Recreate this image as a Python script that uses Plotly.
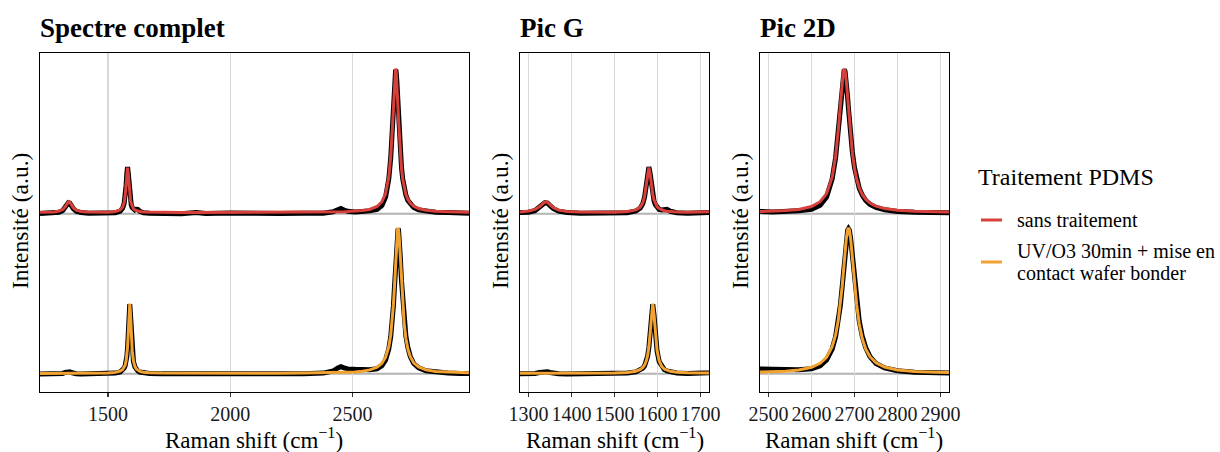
import plotly.graph_objects as go

# ---------------- data ----------------
wavenumber = [
    1222, 1250, 1280, 1300, 1315, 1325, 1332, 1338, 1344, 1350,
    1358, 1370, 1390, 1420, 1460, 1500, 1530, 1550, 1560, 1566,
    1570, 1574, 1577, 1580, 1583, 1586, 1589, 1592, 1595, 1599,
    1604, 1610, 1616, 1622, 1630, 1645, 1670, 1720, 1800, 1860,
    1900, 2000, 2100, 2200, 2300, 2380, 2420, 2440, 2452, 2465,
    2480, 2510, 2540, 2570, 2600, 2620, 2635, 2648, 2656, 2662,
    2667, 2671, 2674, 2676, 2678, 2681, 2684, 2686, 2688, 2691,
    2695, 2700, 2705, 2711, 2718, 2726, 2736, 2750, 2770, 2800,
    2840, 2890, 2940, 2976,
]

# normalised intensities, "sans traitement" : measured points and fit
sans_traitement_mesure = [
    0.002, 0.003, 0.005, 0.011, 0.022, 0.040, 0.062, 0.076, 0.073, 0.056,
    0.035, 0.018, 0.008, 0.004, 0.003, 0.003, 0.007, 0.019, 0.039, 0.071,
    0.115, 0.195, 0.275, 0.322, 0.278, 0.196, 0.130, 0.088, 0.063, 0.043,
    0.030, 0.026, 0.031, 0.030, 0.017, 0.007, 0.003, 0.001, 0.001, 0.008,
    0.002, 0.005, 0.001, 0.002, 0.003, 0.004, 0.014, 0.033, 0.036, 0.026,
    0.017, 0.012, 0.014, 0.020, 0.030, 0.058, 0.115, 0.240, 0.385, 0.565,
    0.755, 0.905, 0.978, 0.992, 0.980, 0.912, 0.800, 0.722, 0.645, 0.540,
    0.425, 0.318, 0.240, 0.176, 0.128, 0.092, 0.065, 0.043, 0.027, 0.016,
    0.010, 0.008, 0.005, 0.004,
]
sans_traitement_fit = [
    0.010, 0.011, 0.013, 0.019, 0.030, 0.048, 0.068, 0.082, 0.079, 0.062,
    0.042, 0.025, 0.016, 0.012, 0.011, 0.011, 0.015, 0.027, 0.046, 0.077,
    0.120, 0.197, 0.275, 0.318, 0.275, 0.197, 0.135, 0.095, 0.070, 0.050,
    0.036, 0.026, 0.021, 0.018, 0.015, 0.012, 0.011, 0.009, 0.009, 0.009,
    0.009, 0.009, 0.009, 0.009, 0.010, 0.011, 0.012, 0.013, 0.013, 0.014,
    0.015, 0.017, 0.022, 0.030, 0.050, 0.083, 0.139, 0.252, 0.394, 0.569,
    0.760, 0.910, 0.983, 0.998, 0.983, 0.910, 0.800, 0.720, 0.642, 0.535,
    0.419, 0.313, 0.239, 0.179, 0.133, 0.100, 0.074, 0.052, 0.036, 0.024,
    0.017, 0.014, 0.012, 0.011,
]

# normalised intensities, "UV/O3 30min + mise en contact wafer bonder"
uvo3_mesure = [
    -0.003, -0.003, -0.002, -0.001, 0.002, 0.008, 0.012, 0.014, 0.013, 0.008,
    0.003, 0.000, -0.002, -0.002, -0.001, 0.000, 0.004, 0.012, 0.024, 0.038,
    0.054, 0.083, 0.119, 0.178, 0.274, 0.403, 0.478, 0.405, 0.276, 0.157,
    0.084, 0.046, 0.028, 0.019, 0.011, 0.005, 0.001, -0.001, -0.002, 0.004,
    -0.001, 0.002, -0.002, -0.001, 0.000, 0.004, 0.018, 0.040, 0.048, 0.040,
    0.033, 0.030, 0.027, 0.027, 0.034, 0.055, 0.095, 0.170, 0.255, 0.352,
    0.468, 0.588, 0.692, 0.764, 0.836, 0.928, 0.987, 0.997, 0.988, 0.932,
    0.808, 0.638, 0.492, 0.362, 0.258, 0.180, 0.118, 0.070, 0.040, 0.020,
    0.010, 0.005, 0.002, 0.001,
]
uvo3_fit = [
    0.002, 0.002, 0.002, 0.003, 0.003, 0.003, 0.003, 0.003, 0.003, 0.003,
    0.003, 0.003, 0.003, 0.003, 0.004, 0.005, 0.009, 0.017, 0.029, 0.043,
    0.059, 0.088, 0.124, 0.183, 0.279, 0.408, 0.482, 0.408, 0.279, 0.160,
    0.088, 0.050, 0.032, 0.023, 0.016, 0.010, 0.006, 0.004, 0.003, 0.003,
    0.003, 0.003, 0.003, 0.003, 0.004, 0.006, 0.007, 0.007, 0.008, 0.009,
    0.010, 0.012, 0.017, 0.026, 0.044, 0.071, 0.113, 0.185, 0.267, 0.362,
    0.475, 0.592, 0.694, 0.766, 0.837, 0.930, 0.990, 1.002, 0.990, 0.930,
    0.802, 0.625, 0.475, 0.343, 0.242, 0.170, 0.117, 0.075, 0.046, 0.026,
    0.015, 0.010, 0.007, 0.006,
]

series_names = ["sans traitement", "UV/O3 30min + mise en contact wafer bonder"]
series_label_lines = [["sans traitement"],
                      ["UV/O3 30min + mise en", "contact wafer bonder"]]
series_colors = ["#D8403B", "#F2A230"]
legend_title = "Traitement PDMS"

panel_titles = ["Spectre complet", "Pic G", "Pic 2D"]
panel_xlims = [[1222, 2976], [1280, 1720], [2480, 2920]]
panel_ticks = [[1500, 2000, 2500],
               [1300, 1400, 1500, 1600, 1700],
               [2500, 2600, 2700, 2800, 2900]]
x_title = "Raman shift (cm<sup>−1</sup>)"
y_title = "Intensité (a.u.)"

# ---------------- layout constants ----------------
W, H = 1220, 452
OFFSET = 1.1                      # vertical stacking of the two spectra
Y_RANGE = [-0.126, 2.206]
panel_px = [(40, 469), (520, 709), (760, 949)]
top_px, bot_px = 53, 392
FONT = "Liberation Serif, Times New Roman, serif"

fig = go.Figure()
layout = dict(
    width=W, height=H, margin=dict(l=0, r=0, t=0, b=0, pad=0), autosize=False,
    paper_bgcolor="white", plot_bgcolor="white", showlegend=False,
    font=dict(family=FONT, color="#1a1a1a"),
    shapes=[], annotations=[],
)

ydom = [1 - bot_px / H, 1 - top_px / H]
for i in range(3):
    sfx = "" if i == 0 else str(i + 1)
    xa, ya = "x" + sfx, "y" + sfx
    x0, x1 = panel_px[i]
    layout["xaxis" + sfx] = dict(
        domain=[x0 / W, x1 / W], anchor=ya, range=panel_xlims[i],
        tickvals=panel_ticks[i], ticktext=[str(t) for t in panel_ticks[i]],
        showgrid=True, gridcolor="#D9D9D9", gridwidth=1.3, zeroline=False,
        showline=True, linecolor="black", linewidth=1.2, mirror=True,
        ticks="outside", ticklen=4, tickwidth=1.1, tickcolor="#333333",
        tickfont=dict(family=FONT, size=20, color="#1a1a1a"),
        automargin=False, fixedrange=True,
    )
    layout["yaxis" + sfx] = dict(
        domain=ydom, anchor=xa, range=Y_RANGE,
        showgrid=False, zeroline=False, showticklabels=False, ticks="",
        showline=True, linecolor="black", linewidth=1.2, mirror=True,
        automargin=False, fixedrange=True,
    )
    # baselines of the two stacked spectra
    for base in (OFFSET, 0.0):
        layout["shapes"].append(dict(
            type="line", xref=xa + " domain", yref=ya, x0=0, x1=1,
            y0=base, y1=base, line=dict(color="#B3B3B3", width=2), layer="below"))

    # measured points (black) then fitted curve (coloured)
    for meas, fit, off, col in (
        (sans_traitement_mesure, sans_traitement_fit, OFFSET, series_colors[0]),
        (uvo3_mesure, uvo3_fit, 0.0, series_colors[1]),
    ):
        fig.add_trace(go.Scatter(
            x=wavenumber, y=[v + off for v in meas], xaxis=xa, yaxis=ya,
            mode="lines", line=dict(color="black", width=5),
            hoverinfo="skip"))
        fig.add_trace(go.Scatter(
            x=wavenumber, y=[v + off for v in fit], xaxis=xa, yaxis=ya,
            mode="lines", line=dict(color=col, width=3),
            hoverinfo="skip"))

    # panel title
    layout["annotations"].append(dict(
        text="<b>" + panel_titles[i] + "</b>", xref="paper", yref="paper",
        x=(x0 - 2) / W, y=1 - 28 / H, xanchor="left", yanchor="middle",
        showarrow=False, font=dict(family=FONT, size=27, color="black")))
    # x title
    layout["annotations"].append(dict(
        text=x_title, xref="paper", yref="paper",
        x=(x0 + x1) / 2 / W, y=1 - 438 / H, xanchor="center", yanchor="middle",
        showarrow=False, font=dict(family=FONT, size=23, color="black")))
    # y title
    layout["annotations"].append(dict(
        text=y_title, xref="paper", yref="paper", textangle=-90,
        x=(x0 - 20) / W, y=1 - 221 / H, xanchor="center", yanchor="middle",
        showarrow=False, font=dict(family=FONT, size=23.5, color="black")))

# legend drawn by hand
layout["annotations"].append(dict(
    text=legend_title, xref="paper", yref="paper", x=976 / W, y=1 - 177 / H,
    xanchor="left", yanchor="middle", showarrow=False,
    font=dict(family=FONT, size=24, color="black")))
key_y = [220, 262]
for lines, col, ky in zip(series_label_lines, series_colors, key_y):
    layout["shapes"].append(dict(
        type="line", xref="paper", yref="paper", x0=981 / W, x1=1002 / W,
        y0=1 - ky / H, y1=1 - ky / H, line=dict(color=col, width=3)))
    n = len(lines)
    for j, txt in enumerate(lines):
        ty = ky + (j - (n - 1) / 2) * 21.6
        layout["annotations"].append(dict(
            text=txt, xref="paper", yref="paper", x=1015 / W, y=1 - ty / H,
            xanchor="left", yanchor="middle", align="left", showarrow=False,
            font=dict(family=FONT, size=20, color="black")))

fig.update_layout(**layout)
fig.write_html("out.html",
               config={"displayModeBar": False, "staticPlot": True},
               post_script="document.body.style.margin='0';"
                           "document.body.style.overflow='hidden';")
